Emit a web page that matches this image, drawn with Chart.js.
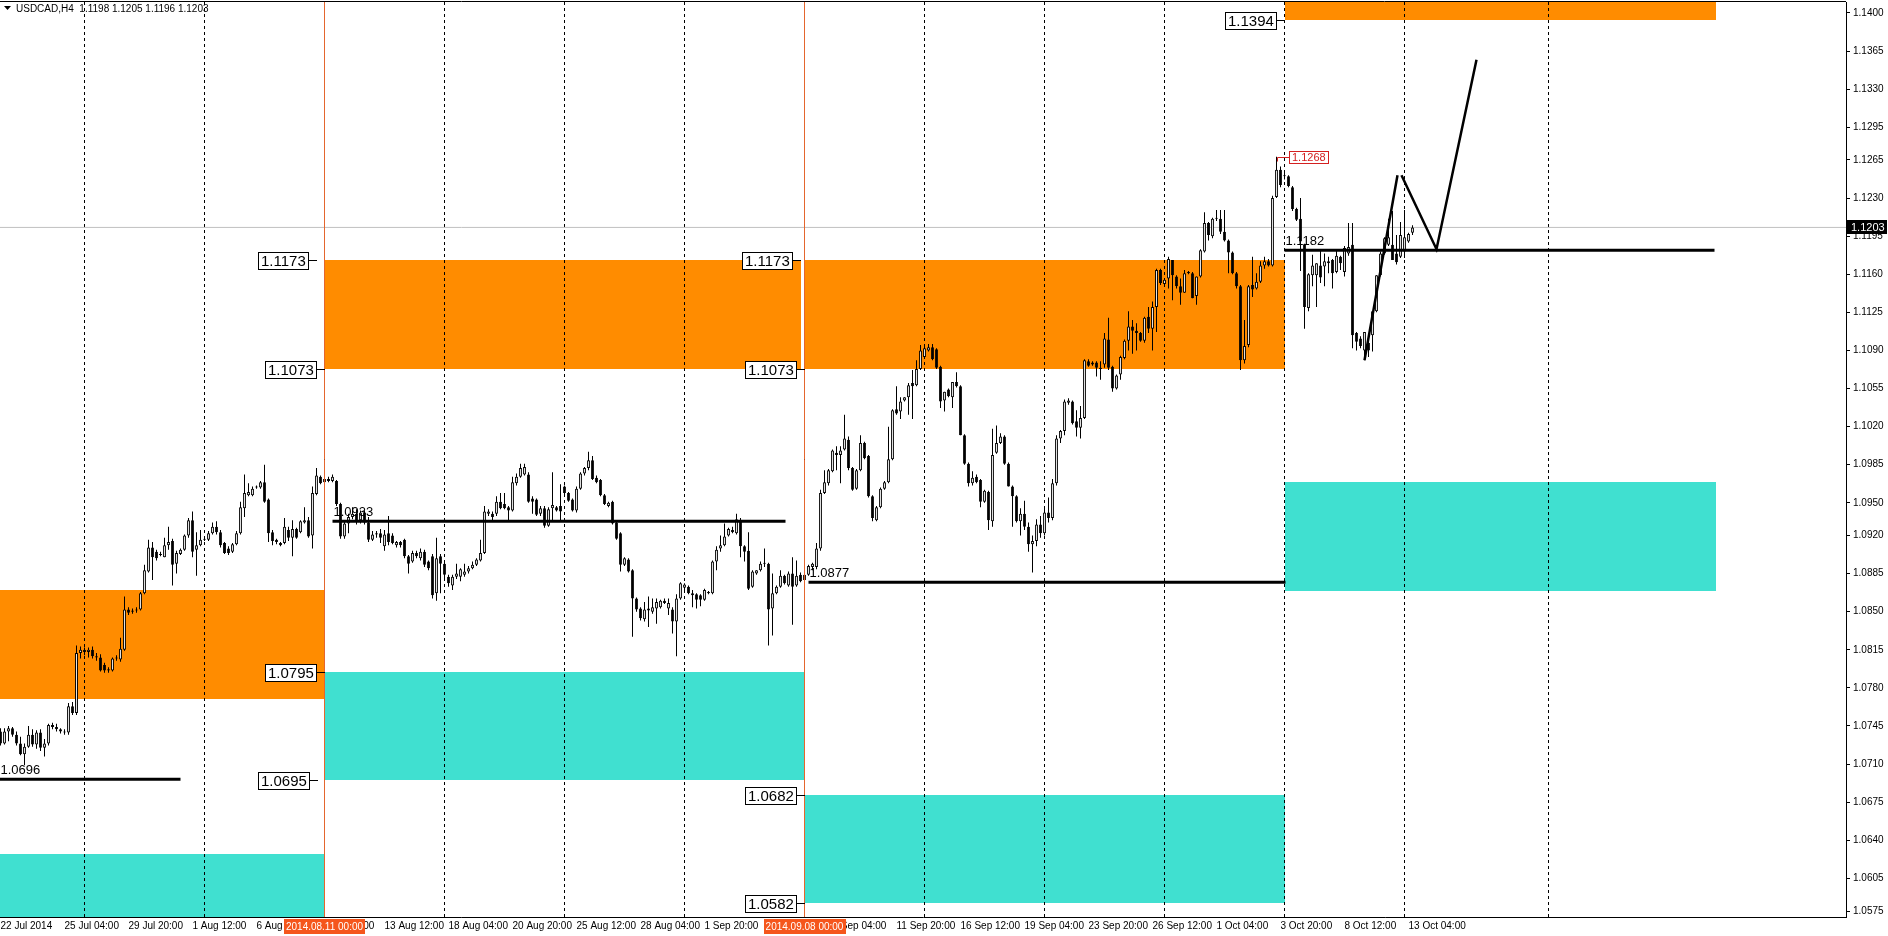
<!DOCTYPE html>
<html>
<head>
<meta charset="utf-8">
<title>USDCAD,H4</title>
<script src="https://cdn.jsdelivr.net/npm/chart.js@4.4.1/dist/chart.umd.min.js"></script>
<style>
html, body { margin: 0; padding: 0; background: #fff; }
#wrap { width: 1888px; height: 936px; }
</style>
</head>
<body>
<div id="wrap"><canvas id="usdcad" width="1888" height="936"></canvas></div>
<script>
// H4 bars, bar 0 = 22 Jul 2014 12:00
var opens = [
1.0740,1.0729,1.0740,1.0743,1.0737,1.0729,1.0719,1.0726,1.0737,1.0728,
1.0739,1.0725,1.0729,1.0746,1.0744,1.0742,1.0740,1.0739,1.0763,1.0757,
1.0812,1.0815,1.0813,1.0815,1.0809,1.0808,1.0801,1.0797,1.0796,1.0807,
1.0806,1.0815,1.0852,1.0850,1.0851,1.0852,1.0867,1.0887,1.0909,1.0905,
1.0903,1.0900,1.0911,1.0915,1.0894,1.0903,1.0907,1.0920,1.0934,1.0907,
1.0911,1.0916,1.0916,1.0922,1.0928,1.0923,1.0913,1.0908,1.0905,1.0912,
1.0922,1.0945,1.0957,1.0957,1.0964,1.0964,1.0969,1.0953,1.0923,1.0916,
1.0913,1.0913,1.0925,1.0918,1.0926,1.0923,1.0932,1.0934,1.0920,1.0958,
1.0974,1.0969,1.0972,1.0970,1.0970,1.0949,1.0919,1.0931,1.0937,1.0940,
1.0934,1.0941,1.0932,1.0916,1.0921,1.0922,1.0910,1.0922,1.0920,1.0911,
1.0914,1.0916,1.0901,1.0896,1.0904,1.0899,1.0905,1.0896,1.0901,1.0867,
1.0901,1.0894,1.0882,1.0874,1.0882,1.0882,1.0884,1.0887,1.0890,1.0893,
1.0897,1.0904,1.0940,1.0940,1.0940,1.0951,1.0949,1.0946,1.0943,1.0968,
1.0974,1.0976,1.0976,1.0954,1.0953,1.0940,1.0945,1.0929,1.0945,1.0946,
1.0947,1.0965,1.0959,1.0953,1.0943,1.0963,1.0977,1.0982,1.0989,1.0973,
1.0971,1.0957,1.0947,1.0951,1.0932,1.0922,1.0893,1.0898,1.0888,1.0862,
1.0853,1.0843,1.0853,1.0850,1.0853,1.0854,1.0860,1.0853,1.0852,1.0841,
1.0862,1.0872,1.0873,1.0867,1.0866,1.0865,1.0861,1.0867,1.0867,1.0896,
1.0908,1.0911,1.0920,1.0925,1.0922,1.0934,1.0910,1.0906,1.0873,1.0885,
1.0888,1.0895,1.0894,1.0853,1.0867,1.0873,1.0883,1.0874,1.0885,1.0874,
1.0884,1.0879,1.0884,1.0891,1.0891,1.0908,1.0959,1.0968,1.0979,1.0996,
1.0994,1.0999,1.1008,1.0982,1.0963,1.0980,1.1005,1.0993,1.0956,1.0934,
1.0946,1.0963,1.0969,1.0990,1.1036,1.1034,1.1044,1.1047,1.1060,1.1058,
1.1073,1.1084,1.1090,1.1093,1.1091,1.1075,1.1044,1.1054,1.1047,1.1061,
1.1057,1.1012,1.0986,1.0968,1.0974,1.0971,1.0951,1.0960,1.0933,1.0996,
1.1005,1.1011,1.0986,1.0965,1.0956,1.0933,1.0940,1.0928,1.0912,1.0915,
1.0930,1.0922,1.0941,1.0936,1.0968,1.1009,1.1016,1.1042,1.1043,1.1025,
1.1019,1.1028,1.1080,1.1077,1.1079,1.1074,1.1077,1.1100,1.1075,1.1055,
1.1068,1.1083,1.1099,1.1112,1.1108,1.1106,1.1099,1.1121,1.1110,1.1130,
1.1164,1.1151,1.1156,1.1173,1.1158,1.1149,1.1143,1.1162,1.1161,1.1140,
1.1158,1.1181,1.1207,1.1195,1.1211,1.1211,1.1199,1.1191,1.1180,1.1161,
1.1149,1.1081,1.1095,1.1150,1.1147,1.1153,1.1168,1.1172,1.1168,1.1231,
1.1256,1.1251,1.1250,1.1240,1.1220,1.1211,1.1187,1.1129,1.1159,1.1159,
1.1168,1.1167,1.1172,1.1173,1.1162,1.1176,1.1162,1.1179,1.1187,1.1106,
1.1101,1.1090,1.1097,1.1104,1.1126,1.1159,1.1179,1.1187,1.1187,1.1179,
1.1176,1.1181,1.1190,1.1198
];
var highs = [
1.0743,1.0743,1.0745,1.0744,1.0740,1.0735,1.0729,1.0745,1.0742,1.0741,
1.0742,1.0733,1.0747,1.0748,1.0747,1.0743,1.0742,1.0766,1.0767,1.0819,
1.0818,1.0817,1.0817,1.0818,1.0812,1.0811,1.0803,1.0799,1.0808,1.0810,
1.0826,1.0864,1.0854,1.0853,1.0854,1.0868,1.0893,1.0916,1.0914,1.0907,
1.0905,1.0918,1.0928,1.0917,1.0906,1.0908,1.0921,1.0936,1.0942,1.0923,
1.0925,1.0919,1.0924,1.0932,1.0933,1.0925,1.0914,1.0910,1.0913,1.0924,
1.0951,1.0976,1.0968,1.0965,1.0966,1.0970,1.0985,1.0954,1.0925,1.0917,
1.0914,1.0936,1.0928,1.0934,1.0927,1.0934,1.0946,1.0937,1.0965,1.0982,
1.0975,1.0974,1.0974,1.0976,1.0971,1.0950,1.0934,1.0940,1.0946,1.0944,
1.0943,1.0943,1.0937,1.0924,1.0924,1.0926,1.0925,1.0938,1.0922,1.0915,
1.0915,1.0917,1.0902,1.0906,1.0906,1.0908,1.0907,1.0897,1.0903,1.0918,
1.0903,1.0895,1.0884,1.0884,1.0894,1.0890,1.0894,1.0892,1.0896,1.0899,
1.0916,1.0947,1.0944,1.0942,1.0956,1.0959,1.0959,1.0947,1.0974,1.0977,
1.0986,1.0986,1.0978,1.0956,1.0954,1.0947,1.0947,1.0946,1.0978,1.0947,
1.0967,1.0966,1.0960,1.0954,1.0965,1.0978,1.0983,1.0997,1.0993,1.0975,
1.0972,1.0958,1.0951,1.0952,1.0933,1.0923,1.0900,1.0899,1.0889,1.0863,
1.0854,1.0859,1.0864,1.0862,1.0862,1.0861,1.0862,1.0862,1.0854,1.0866,
1.0877,1.0876,1.0874,1.0870,1.0867,1.0866,1.0871,1.0869,1.0897,1.0910,
1.0920,1.0931,1.0927,1.0928,1.0940,1.0936,1.0911,1.0923,1.0888,1.0888,
1.0896,1.0908,1.0895,1.0885,1.0874,1.0888,1.0884,1.0887,1.0900,1.0897,
1.0886,1.0886,1.0893,1.0895,1.0913,1.0962,1.0980,1.0981,1.0999,1.1002,
1.1002,1.1031,1.1011,1.0983,1.0981,1.1012,1.1006,1.0994,1.0957,1.0947,
1.0964,1.0970,1.1020,1.1036,1.1057,1.1047,1.1047,1.1060,1.1072,1.1081,
1.1095,1.1095,1.1096,1.1096,1.1092,1.1076,1.1052,1.1055,1.1061,1.1070,
1.1058,1.1013,1.0987,1.0979,1.0976,1.0972,1.0962,1.0961,1.1018,1.1021,
1.1014,1.1012,1.0987,1.0966,1.0957,1.0945,1.0952,1.0932,1.0920,1.0935,
1.0938,1.0945,1.0955,1.0972,1.1012,1.1017,1.1045,1.1046,1.1044,1.1035,
1.1039,1.1082,1.1082,1.1080,1.1080,1.1080,1.1106,1.1120,1.1076,1.1068,
1.1085,1.1100,1.1126,1.1118,1.1115,1.1107,1.1121,1.1130,1.1135,1.1165,
1.1165,1.1155,1.1176,1.1173,1.1159,1.1156,1.1164,1.1163,1.1162,1.1158,
1.1183,1.1217,1.1208,1.1212,1.1219,1.1219,1.1219,1.1192,1.1181,1.1162,
1.1150,1.1118,1.1150,1.1176,1.1161,1.1172,1.1176,1.1174,1.1232,1.1268,
1.1259,1.1253,1.1251,1.1241,1.1221,1.1230,1.1188,1.1161,1.1178,1.1170,
1.1182,1.1179,1.1176,1.1174,1.1182,1.1177,1.1186,1.1207,1.1207,1.1107,
1.1103,1.1107,1.1101,1.1126,1.1159,1.1181,1.1194,1.1211,1.1218,1.1196,
1.1208,1.1219,1.1198,1.1205
];
var lows = [
1.0727,1.0728,1.0731,1.0735,1.0727,1.0718,1.0709,1.0725,1.0726,1.0724,
1.0722,1.0717,1.0727,1.0742,1.0740,1.0738,1.0737,1.0737,1.0755,1.0755,
1.0807,1.0810,1.0808,1.0807,1.0805,1.0795,1.0794,1.0794,1.0795,1.0805,
1.0804,1.0814,1.0847,1.0848,1.0849,1.0851,1.0866,1.0886,1.0879,1.0897,
1.0901,1.0900,1.0907,1.0874,1.0885,1.0902,1.0906,1.0918,1.0900,1.0883,
1.0910,1.0915,1.0915,1.0921,1.0921,1.0909,1.0903,1.0902,1.0904,1.0911,
1.0921,1.0937,1.0956,1.0956,1.0963,1.0963,1.0950,1.0914,1.0911,1.0912,
1.0910,1.0912,1.0915,1.0901,1.0917,1.0922,1.0931,1.0918,1.0908,1.0957,
1.0967,1.0968,1.0969,1.0969,1.0947,1.0917,1.0917,1.0922,1.0935,1.0930,
1.0931,1.0930,1.0914,1.0915,1.0918,1.0913,1.0906,1.0911,1.0912,1.0909,
1.0909,1.0899,1.0885,1.0895,1.0899,1.0897,1.0891,1.0888,1.0862,1.0860,
1.0867,1.0880,1.0873,1.0870,1.0880,1.0878,1.0882,1.0885,1.0889,1.0892,
1.0896,1.0903,1.0938,1.0934,1.0938,1.0944,1.0944,1.0934,1.0942,1.0966,
1.0973,1.0975,1.0950,1.0940,1.0938,1.0938,1.0927,1.0928,1.0934,1.0942,
1.0934,1.0958,1.0951,1.0942,1.0941,1.0962,1.0975,1.0980,1.0971,1.0968,
1.0956,1.0948,1.0946,1.0930,1.0916,1.0887,1.0892,1.0886,1.0827,1.0850,
1.0842,1.0841,1.0836,1.0848,1.0839,1.0853,1.0857,1.0847,1.0830,1.0809,
1.0861,1.0870,1.0866,1.0854,1.0853,1.0855,1.0860,1.0866,1.0866,1.0888,
1.0905,1.0910,1.0919,1.0922,1.0921,1.0900,1.0896,1.0870,1.0872,1.0884,
1.0887,1.0891,1.0819,1.0828,1.0866,1.0872,1.0875,1.0873,1.0838,1.0873,
1.0877,1.0878,1.0883,1.0888,1.0889,1.0906,1.0958,1.0966,1.0978,1.0980,
1.0968,1.0998,1.0980,1.0961,1.0962,1.0979,1.0990,1.0955,1.0933,1.0933,
1.0945,1.0962,1.0968,1.0989,1.1031,1.1027,1.1043,1.1031,1.1027,1.1057,
1.1072,1.1083,1.1089,1.1081,1.1073,1.1037,1.1034,1.1047,1.1037,1.1056,
1.1012,1.0985,1.0965,1.0966,1.0968,1.0946,1.0950,1.0925,1.0928,1.0995,
1.1004,1.0985,1.0965,1.0928,1.0932,1.0920,1.0925,1.0905,1.0886,1.0910,
1.0918,1.0920,1.0932,1.0934,1.0966,1.1005,1.1012,1.1040,1.1022,1.1011,
1.1009,1.1027,1.1075,1.1076,1.1066,1.1063,1.1074,1.1072,1.1052,1.1054,
1.1063,1.1082,1.1090,1.1087,1.1090,1.1098,1.1097,1.1106,1.1090,1.1107,
1.1150,1.1150,1.1147,1.1136,1.1147,1.1132,1.1143,1.1160,1.1138,1.1132,
1.1157,1.1180,1.1191,1.1193,1.1209,1.1197,1.1190,1.1161,1.1160,1.1147,
1.1072,1.1078,1.1093,1.1139,1.1146,1.1152,1.1165,1.1167,1.1167,1.1230,
1.1240,1.1247,1.1240,1.1218,1.1209,1.1163,1.1110,1.1126,1.1149,1.1130,
1.1152,1.1149,1.1161,1.1147,1.1161,1.1164,1.1158,1.1177,1.1092,1.1090,
1.1092,1.1081,1.1084,1.1089,1.1125,1.1158,1.1178,1.1186,1.1173,1.1169,
1.1175,1.1175,1.1189,1.1196
];
var closes = [
1.0729,1.0740,1.0743,1.0737,1.0729,1.0719,1.0726,1.0737,1.0728,1.0739,
1.0725,1.0729,1.0746,1.0744,1.0742,1.0740,1.0739,1.0763,1.0757,1.0812,
1.0815,1.0813,1.0815,1.0809,1.0808,1.0796,1.0796,1.0796,1.0807,1.0808,
1.0816,1.0852,1.0849,1.0851,1.0852,1.0867,1.0888,1.0909,1.0900,1.0899,
1.0902,1.0911,1.0914,1.0893,1.0904,1.0907,1.0920,1.0934,1.0905,1.0911,
1.0916,1.0917,1.0922,1.0928,1.0923,1.0911,1.0904,1.0904,1.0912,1.0922,
1.0946,1.0959,1.0960,1.0963,1.0965,1.0969,1.0951,1.0922,1.0915,1.0914,
1.0911,1.0928,1.0918,1.0926,1.0918,1.0933,1.0934,1.0919,1.0959,1.0975,
1.0968,1.0972,1.0970,1.0974,1.0949,1.0919,1.0931,1.0937,1.0940,1.0934,
1.0941,1.0932,1.0916,1.0921,1.0922,1.0918,1.0921,1.0914,1.0913,1.0914,
1.0911,1.0901,1.0894,1.0904,1.0901,1.0905,1.0893,1.0890,1.0865,1.0899,
1.0894,1.0884,1.0876,1.0882,1.0885,1.0889,1.0887,1.0890,1.0893,1.0898,
1.0904,1.0942,1.0942,1.0937,1.0951,1.0945,1.0945,1.0943,1.0969,1.0974,
1.0982,1.0983,1.0951,1.0951,1.0939,1.0945,1.0929,1.0944,1.0948,1.0943,
1.0942,1.0959,1.0952,1.0943,1.0963,1.0977,1.0982,1.0989,1.0972,1.0969,
1.0957,1.0949,1.0950,1.0931,1.0917,1.0893,1.0899,1.0887,1.0862,1.0852,
1.0844,1.0852,1.0851,1.0854,1.0859,1.0860,1.0858,1.0858,1.0841,1.0862,
1.0876,1.0875,1.0867,1.0865,1.0861,1.0861,1.0870,1.0868,1.0896,1.0907,
1.0911,1.0919,1.0926,1.0923,1.0935,1.0910,1.0905,1.0871,1.0887,1.0888,
1.0894,1.0894,1.0852,1.0867,1.0873,1.0883,1.0876,1.0885,1.0873,1.0883,
1.0878,1.0884,1.0892,1.0894,1.0908,1.0959,1.0969,1.0980,1.0998,1.0994,
1.0998,1.1009,1.0982,1.0962,1.0980,1.1005,1.0991,1.0956,1.0936,1.0946,
1.0963,1.0969,1.0990,1.1035,1.1032,1.1043,1.1047,1.1058,1.1057,1.1073,
1.1090,1.1092,1.1093,1.1082,1.1074,1.1043,1.1052,1.1048,1.1061,1.1057,
1.1012,1.0986,1.0968,1.0973,1.0969,1.0951,1.0961,1.0934,1.0994,1.1005,
1.1011,1.0986,1.0965,1.0956,1.0933,1.0940,1.0928,1.0912,1.0915,1.0930,
1.0922,1.0941,1.0936,1.0968,1.1009,1.1016,1.1043,1.1044,1.1023,1.1019,
1.1028,1.1081,1.1076,1.1079,1.1074,1.1073,1.1101,1.1074,1.1055,1.1067,
1.1084,1.1099,1.1112,1.1108,1.1106,1.1099,1.1120,1.1110,1.1130,1.1164,
1.1152,1.1155,1.1174,1.1159,1.1149,1.1143,1.1161,1.1161,1.1138,1.1158,
1.1182,1.1207,1.1196,1.1211,1.1212,1.1199,1.1191,1.1180,1.1161,1.1149,
1.1081,1.1094,1.1149,1.1146,1.1153,1.1168,1.1172,1.1168,1.1230,1.1256,
1.1242,1.1250,1.1241,1.1220,1.1210,1.1190,1.1130,1.1160,1.1168,1.1170,
1.1157,1.1172,1.1170,1.1161,1.1177,1.1170,1.1184,1.1185,1.1104,1.1098,
1.1094,1.1107,1.1090,1.1126,1.1159,1.1179,1.1193,1.1194,1.1173,1.1171,
1.1196,1.1194,1.1197,1.1203
];

var xTickBars = [0,16,32,48,64,80,96,112,128,144,160,176,192,208,224,240,256,272,288,304,320,336,352];
var xTickLabels = ['22 Jul 2014','25 Jul 04:00','29 Jul 20:00','1 Aug 12:00','6 Aug 04:00','8 Aug 20:00',
  '13 Aug 12:00','18 Aug 04:00','20 Aug 20:00','25 Aug 12:00','28 Aug 04:00','1 Sep 20:00','4 Sep 12:00',
  '9 Sep 04:00','11 Sep 20:00','16 Sep 12:00','19 Sep 04:00','23 Sep 20:00','26 Sep 12:00','1 Oct 04:00',
  '3 Oct 20:00','8 Oct 12:00','13 Oct 04:00'];
var weekBars = [21,51,81,111,141,171,201,231,261,291,321,351,387];
var priceTicks = [1.1400,1.1365,1.1330,1.1295,1.1265,1.1230,1.1195,1.1160,1.1125,1.1090,1.1055,1.1020,
  1.0985,1.0950,1.0920,1.0885,1.0850,1.0815,1.0780,1.0745,1.0710,1.0675,1.0640,1.0605,1.0575];

var separatorBars = [81, 201];
var separatorLabels = ['2014.08.11 00:00', '2014.09.08 00:00'];

var zoneFrom   = [-0.25, -0.25, 81, 81, 201, 201, 321, 321];
var zoneTo     = [81, 81, 201, 200, 321, 321, 428.75, 428.75];
var zoneTop    = [1.0870, 1.0627, 1.0795, 1.1173, 1.1173, 1.0682, 1.1494, 1.0969];
var zoneBottom = [1.0770, 1.0527, 1.0695, 1.1073, 1.1073, 1.0582, 1.1394, 1.0869];
var zoneColor  = ['#ff8c00', '#40e0d0', '#40e0d0', '#ff8c00', '#ff8c00', '#40e0d0', '#ff8c00', '#40e0d0'];

var levelPrice = [1.0696, 1.0933, 1.0877, 1.1182];
var levelFrom  = [-0.25, 83, 202, 321];
var levelTo    = [45, 196.25, 321.25, 428.5];

var tagPrice = [1.1173, 1.1073, 1.0795, 1.0695, 1.1173, 1.1073, 1.0682, 1.0582, 1.1394];
var tagBar   = [79, 81, 81, 79.25, 200, 201, 201, 201, 321];

var pathBars   = [341, 349.25, 349.75, 350.25, 359, 369];
var pathPrices = [1.1081, 1.1251, null, 1.1251, 1.1183, 1.1357];

var lastPrice = 1.1203;
var peakBar = 319, peakPrice = 1.1268;

var X_MIN = -0.125, X_MAX = 461.375;
var Y_MIN = 1.05695, Y_MAX = 1.14101;
var FONT = '"Liberation Sans", Arial, sans-serif';

var bars = opens.map(function (o, i) { return i; });
var wickData = bars.map(function (i) { return { x: i, y: [lows[i], highs[i]] }; });
var bodyData = bars.map(function (i) { return { x: i, y: [opens[i], closes[i]] }; });

var datasets = [];
datasets.push({
  type: 'line', order: 9,
  data: [{ x: X_MIN, y: lastPrice }, { x: X_MAX, y: lastPrice }],
  borderColor: '#c0c0c0', borderWidth: 1, pointRadius: 0
});
datasets.push({
  type: 'bar', order: 5, grouped: false,
  data: wickData, backgroundColor: '#000', maxBarThickness: 1, borderWidth: 0, inflateAmount: 0
});
datasets.push({
  type: 'bar', order: 4, grouped: false,
  data: bodyData,
  backgroundColor: function (c) { var i = c.dataIndex; return closes[i] >= opens[i] ? '#ffffff' : '#000000'; },
  borderColor: '#000', borderWidth: 1, borderSkipped: false, maxBarThickness: 3, minBarLength: 1, inflateAmount: 0
});
separatorBars.forEach(function (b) {
  datasets.push({
    type: 'line', order: 3,
    data: [{ x: b, y: Y_MIN }, { x: b, y: Y_MAX }],
    borderColor: '#e4662e', borderWidth: 1, pointRadius: 0
  });
});
levelPrice.forEach(function (p, k) {
  datasets.push({
    type: 'line', order: 2,
    data: [{ x: levelFrom[k], y: p }, { x: levelTo[k], y: p }],
    borderColor: '#000', borderWidth: 3, pointRadius: 0
  });
});
datasets.push({
  type: 'line', order: 1,
  data: pathBars.map(function (b, k) { return { x: b, y: pathPrices[k] }; }),
  borderColor: '#000', borderWidth: 2.5, pointRadius: 0, spanGaps: false
});

var overlay = {
  id: 'overlay',
  beforeDraw: function (chart) {
    var ctx = chart.ctx, xs = chart.scales.x, ys = chart.scales.y, a = chart.chartArea;
    ctx.save();
    ctx.fillStyle = '#ffffff';
    ctx.fillRect(0, 0, chart.width, chart.height);
    ctx.beginPath();
    ctx.rect(a.left, a.top, a.right - a.left, a.bottom - a.top);
    ctx.clip();
    for (var k = 0; k < zoneFrom.length; k++) {
      var x0 = Math.round(xs.getPixelForValue(zoneFrom[k])), x1 = Math.round(xs.getPixelForValue(zoneTo[k]));
      var y0 = Math.round(ys.getPixelForValue(zoneTop[k])), y1 = Math.round(ys.getPixelForValue(zoneBottom[k]));
      ctx.fillStyle = zoneColor[k];
      ctx.fillRect(x0, y0, x1 - x0, y1 - y0);
    }
    ctx.restore();
  },
  afterDatasetsDraw: function (chart) {
    var ctx = chart.ctx, xs = chart.scales.x, ys = chart.scales.y;
    ctx.save();
    // level captions
    ctx.font = '13px ' + FONT;
    ctx.fillStyle = '#000';
    ctx.textAlign = 'left';
    ctx.textBaseline = 'bottom';
    levelPrice.forEach(function (p, k) {
      ctx.fillText(p.toFixed(4), xs.getPixelForValue(levelFrom[k]) + 1, ys.getPixelForValue(p) - 2);
    });
    // boxed price tags
    ctx.font = '15px ' + FONT;
    ctx.textBaseline = 'middle';
    ctx.lineWidth = 1;
    ctx.strokeStyle = '#000';
    tagPrice.forEach(function (p, k) {
      var xa = Math.round(xs.getPixelForValue(tagBar[k]));
      var y = Math.round(ys.getPixelForValue(p)) + 0.5;
      var txt = p.toFixed(4);
      var w = Math.round(ctx.measureText(txt).width) + 5, h = 17;
      var bx = xa - 9 - w;
      ctx.beginPath();
      ctx.moveTo(xa - 9, y);
      ctx.lineTo(xa, y);
      ctx.stroke();
      ctx.fillStyle = '#fff';
      ctx.fillRect(bx + 0.5, Math.round(y - h / 2), w, h);
      ctx.strokeRect(bx + 0.5, Math.round(y - h / 2) + 0.5, w, h);
      ctx.fillStyle = '#000';
      ctx.fillText(txt, bx + 3, y + 1);
    });
    // peak tag
    var hx = Math.round(xs.getPixelForValue(peakBar)) + 0.5;
    var hy = Math.round(ys.getPixelForValue(peakPrice)) + 0.5;
    ctx.strokeStyle = '#d42020';
    ctx.beginPath();
    ctx.moveTo(hx, hy + 4);
    ctx.lineTo(hx, hy);
    ctx.lineTo(hx + 12, hy);
    ctx.stroke();
    ctx.font = '11px ' + FONT;
    var pt = peakPrice.toFixed(4);
    var pw = Math.round(ctx.measureText(pt).width) + 5;
    ctx.fillStyle = '#fff';
    ctx.fillRect(hx + 12, hy - 6, pw, 12);
    ctx.strokeRect(hx + 12, hy - 6, pw, 12);
    ctx.fillStyle = '#d42020';
    ctx.fillText(pt, hx + 14.5, hy + 0.5);
    ctx.restore();
  },
  afterDraw: function (chart) {
    var ctx = chart.ctx, xs = chart.scales.x, ys = chart.scales.y, a = chart.chartArea;
    ctx.save();
    // top frame
    ctx.strokeStyle = '#000';
    ctx.lineWidth = 1;
    ctx.beginPath();
    ctx.moveTo(0, a.top - 0.5);
    ctx.lineTo(a.right, a.top - 0.5);
    ctx.stroke();
    // separator date stamps
    ctx.font = '10px ' + FONT;
    ctx.textAlign = 'center';
    ctx.textBaseline = 'middle';
    separatorBars.forEach(function (b, k) {
      var cx = xs.getPixelForValue(b);
      var w = ctx.measureText(separatorLabels[k]).width + 4;
      ctx.fillStyle = '#f5561c';
      ctx.fillRect(Math.round(cx - w / 2), a.bottom + 2, Math.round(w), 15);
      ctx.fillStyle = '#fff';
      ctx.fillText(separatorLabels[k], cx, a.bottom + 10);
    });
    // last price on the axis
    var ry = Math.round(ys.getPixelForValue(lastPrice));
    ctx.fillStyle = '#000';
    ctx.fillRect(a.right + 1, ry - 7, 40, 14);
    ctx.fillStyle = '#fff';
    ctx.textAlign = 'left';
    ctx.font = '11px ' + FONT;
    ctx.fillText(lastPrice.toFixed(4), a.right + 5, ry + 0.5);
    // symbol caption
    var n = closes.length - 1;
    ctx.fillStyle = '#000';
    ctx.beginPath();
    ctx.moveTo(4, 6);
    ctx.lineTo(11, 6);
    ctx.lineTo(7.5, 10);
    ctx.closePath();
    ctx.fill();
    ctx.font = '10px ' + FONT;
    ctx.fillText('USDCAD,H4  ' + [opens[n], highs[n], lows[n], closes[n]].map(function (v) { return v.toFixed(4); }).join(' '), 16, 9);
    ctx.restore();
  }
};

Chart.defaults.font.family = FONT;
Chart.defaults.font.size = 10;
Chart.defaults.color = '#000';

new Chart(document.getElementById('usdcad'), {
  type: 'bar',
  data: { datasets: datasets },
  options: {
    responsive: false,
    animation: false,
    devicePixelRatio: 1,
    events: [],
    layout: { padding: { top: 2, left: 0, right: 0, bottom: 0 } },
    plugins: { legend: { display: false }, tooltip: { enabled: false } },
    scales: {
      x: {
        type: 'linear', position: 'bottom', min: X_MIN, max: X_MAX, offset: false,
        afterBuildTicks: function (s) { s.ticks = xTickBars.map(function (v) { return { value: v }; }); },
        afterFit: function (s) { s.height = 19; s.paddingLeft = 0; s.paddingRight = 0; },
        ticks: {
          autoSkip: false, maxRotation: 0, minRotation: 0, align: 'start', padding: 0,
          font: { size: 10 },
          callback: function (v, i) { return xTickLabels[i]; }
        },
        grid: { offset: false, drawOnChartArea: false, drawTicks: true, tickLength: 3, tickColor: 'rgba(0,0,0,0)' },
        border: { display: true, color: '#000' }
      },
      xg: {
        type: 'linear', position: 'bottom', min: X_MIN, max: X_MAX, offset: false,
        afterBuildTicks: function (s) { s.ticks = weekBars.map(function (v) { return { value: v }; }); },
        afterFit: function (s) { s.height = 0; s.paddingLeft = 0; s.paddingRight = 0; },
        ticks: { display: false },
        grid: { offset: false, drawOnChartArea: true, drawTicks: false, color: '#000', lineWidth: 1 },
        border: { display: false, dash: [3, 3] }
      },
      y: {
        type: 'linear', position: 'right', min: Y_MIN, max: Y_MAX,
        afterBuildTicks: function (s) { s.ticks = priceTicks.map(function (v) { return { value: v }; }); },
        afterFit: function (s) { s.width = 42; s.paddingTop = 0; s.paddingBottom = 0; },
        ticks: {
          autoSkip: false, padding: 3, font: { size: 10 },
          callback: function (v) { return v.toFixed(4); }
        },
        grid: { drawOnChartArea: false, drawTicks: true, tickLength: 4, tickColor: '#000' },
        border: { display: true, color: '#000' }
      }
    }
  },
  plugins: [overlay]
});
</script>
</body>
</html>
